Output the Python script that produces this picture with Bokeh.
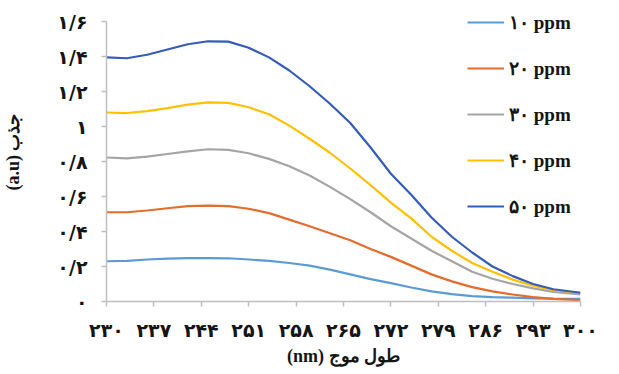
from bokeh.plotting import figure
from bokeh.models import Range1d, FixedTicker, Legend, LegendItem
from bokeh.embed import file_html
from bokeh.resources import INLINE

# wavelength (nm)
wavelength = [230, 233, 236, 239, 242, 245, 248, 251, 254, 257, 260, 263,
              266, 269, 272, 275, 278, 281, 284, 287, 290, 293, 296, 300]

# absorbance (a.u) for each concentration
abs_10 = [0.23, 0.232, 0.24, 0.245, 0.248, 0.248, 0.247, 0.24, 0.232, 0.22, 0.205, 0.182,
          0.155, 0.128, 0.105, 0.08, 0.058, 0.042, 0.031, 0.025, 0.022, 0.018, 0.016, 0.015]
abs_20 = [0.51, 0.51, 0.52, 0.533, 0.545, 0.548, 0.545, 0.53, 0.505, 0.468, 0.43, 0.39,
          0.35, 0.30, 0.255, 0.205, 0.155, 0.115, 0.082, 0.058, 0.04, 0.025, 0.015, 0.008]
abs_30 = [0.823, 0.818, 0.828, 0.843, 0.858, 0.87, 0.866, 0.847, 0.815, 0.773, 0.72, 0.655,
          0.585, 0.51, 0.43, 0.36, 0.29, 0.23, 0.17, 0.13, 0.10, 0.075, 0.055, 0.04]
abs_40 = [1.08, 1.077, 1.088, 1.105, 1.125, 1.138, 1.135, 1.11, 1.07, 1.005, 0.93, 0.85,
          0.76, 0.665, 0.565, 0.475, 0.37, 0.29, 0.22, 0.17, 0.125, 0.09, 0.065, 0.05]
abs_50 = [1.395, 1.39, 1.41, 1.44, 1.47, 1.487, 1.485, 1.45, 1.395, 1.32, 1.23, 1.13,
          1.02, 0.88, 0.73, 0.61, 0.48, 0.37, 0.28, 0.20, 0.145, 0.10, 0.07, 0.05]

series_labels = ["۱۰ ppm", "۲۰ ppm", "۳۰ ppm", "۴۰ ppm", "۵۰ ppm"]
series_colors = ["#5B9BD5", "#E46C2C", "#A5A5A5", "#FFC000", "#345CB8"]

x_ticks = [230, 237, 244, 251, 258, 265, 272, 279, 286, 293, 300]
x_tick_labels = ["۲۳۰", "۲۳۷", "۲۴۴", "۲۵۱", "۲۵۸", "۲۶۵", "۲۷۲", "۲۷۹", "۲۸۶", "۲۹۳", "۳۰۰"]
y_ticks = [0, 0.2, 0.4, 0.6, 0.8, 1.0, 1.2, 1.4, 1.6]
y_tick_labels = ["۰", "۰/۲", "۰/۴", "۰/۶", "۰/۸", "۱", "۱/۲", "۱/۴", "۱/۶"]

x_title = "(nm) طول موج"
y_title = "(a.u) جذب"

p = figure(width=619, height=374, output_backend="svg", toolbar_location=None,
           x_range=Range1d(230, 300), y_range=Range1d(0, 1.7086),
           min_border_left=104, min_border_right=39, min_border_top=2,
           min_border_bottom=73)
p.outline_line_color = None
p.xgrid.grid_line_color = None
p.ygrid.grid_line_color = None
p.background_fill_color = "white"
p.border_fill_color = "white"

text_color = "#151515"
for ax in (p.xaxis[0], p.yaxis[0]):
    ax.axis_line_color = "#BFBFBF"
    ax.axis_line_width = 1.5
    ax.major_tick_line_color = "#BFBFBF"
    ax.major_tick_line_width = 1.5
    ax.major_tick_in = 0
    ax.major_tick_out = 5
    ax.minor_tick_line_color = None
    ax.major_label_text_font = "DejaVu Sans"
    ax.major_label_text_font_style = "bold"
    ax.major_label_text_font_size = "19px"
    ax.major_label_text_color = text_color
    ax.axis_label_text_font = "Liberation Serif"
    ax.axis_label_text_font_style = "bold"
    ax.axis_label_text_font_size = "18px"
    ax.axis_label_text_color = text_color

p.xaxis.ticker = FixedTicker(ticks=x_ticks)
p.xaxis.major_label_overrides = dict(zip(x_ticks, x_tick_labels))
p.xaxis.major_label_standoff = 12
p.xaxis.axis_label = x_title
p.xaxis.axis_label_standoff = 2
p.xaxis.bounds = (230, 300)

p.yaxis.ticker = FixedTicker(ticks=y_ticks)
p.yaxis.major_label_overrides = dict(zip(y_ticks, y_tick_labels))
p.yaxis.major_label_standoff = 14
p.yaxis.axis_label = y_title
p.yaxis.axis_label_standoff = 31
p.yaxis.bounds = (0, 1.6)

items = []
for vals, lab, col in zip([abs_10, abs_20, abs_30, abs_40, abs_50], series_labels, series_colors):
    r = p.line(wavelength, vals, line_color=col, line_width=2.2)
    items.append(LegendItem(label=lab, renderers=[r]))

legend = Legend(items=items, location=(361, 80), orientation="vertical",
                glyph_width=37, glyph_height=30, label_height=30, spacing=16,
                padding=0, margin=0, label_standoff=5,
                border_line_color=None, background_fill_alpha=0,
                label_text_font="Liberation Serif", label_text_font_style="bold",
                label_text_font_size="19px", label_text_color=text_color)
p.add_layout(legend, "center")

open("out.html", "w").write(file_html(p, INLINE))
